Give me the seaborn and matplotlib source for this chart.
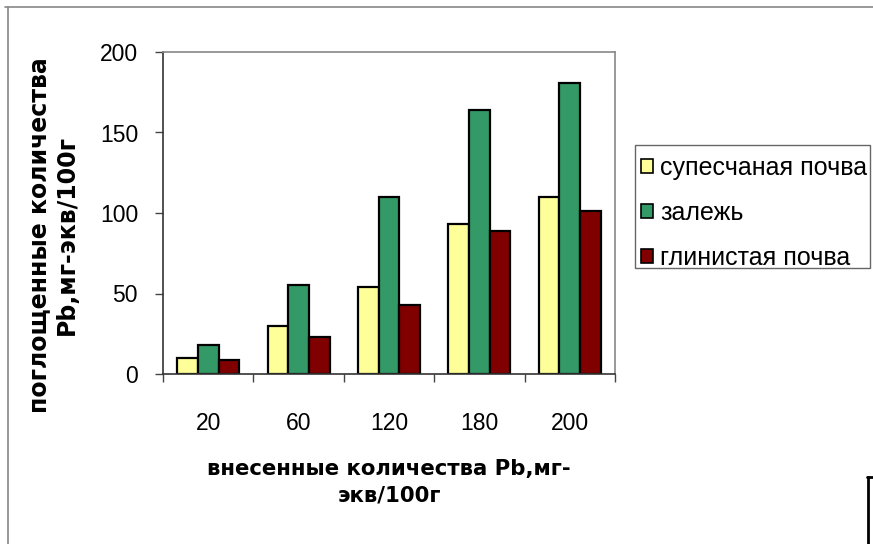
import matplotlib
matplotlib.use("Agg")
import matplotlib.pyplot as plt
from matplotlib.lines import Line2D
from matplotlib.patches import Rectangle
import seaborn as sns
import pandas as pd

# Applied Pb doses (mg-eq/100 g) and absorbed amounts per soil type
doses = ["20", "60", "120", "180", "200"]
soil_names = ["супесчаная почва", "залежь", "глинистая почва"]
sandy_loam = [10, 30, 54, 93, 110]
fallow = [18, 55, 110, 164, 181]
clay = [9, 23, 43, 89, 101]
soil_colors = ["#FFFF99", "#339966", "#800000"]
y_ticks = [0, 50, 100, 150, 200]

rows = []
for name, vals in zip(soil_names, [sandy_loam, fallow, clay]):
    for d, v in zip(doses, vals):
        rows.append({"доза": d, "почва": name, "значение": v})
df = pd.DataFrame(rows)

sns.set_theme(style="white")
plt.rcParams["font.family"] = ["Liberation Sans", "DejaVu Sans"]
plt.rcParams["text.color"] = "black"

W, H = 873, 544
fig = plt.figure(figsize=(W / 100, H / 100), dpi=100)
ax = fig.add_axes([163 / W, 1 - 374 / H, 452 / W, 322 / H])

sns.barplot(
    data=df, x="доза", y="значение", hue="почва",
    order=doses, hue_order=soil_names, palette=soil_colors,
    width=0.687, gap=0, edgecolor="black", linewidth=1.6,
    saturation=1, ax=ax, legend=True,
)

ax.set_xlim(-0.5, len(doses) - 0.5)
ax.set_ylim(0, 200)
ax.set_yticks(y_ticks)
ax.set_yticklabels([str(t) for t in y_ticks], fontsize=16.5)
ax.set_xticks(range(len(doses)))
ax.set_xticklabels(doses, fontsize=16.5)
ax.set_xticks([i - 0.5 for i in range(len(doses) + 1)], minor=True)
ax.tick_params(axis="x", which="major", length=0, pad=27, labelcolor="black")
ax.tick_params(axis="x", which="minor", length=6, width=1, color="#444444", direction="out", bottom=True)
ax.tick_params(axis="y", which="major", length=6, width=1, color="#444444", direction="out", left=True,
               pad=12, labelcolor="black")

for side in ["top", "right"]:
    ax.spines[side].set_color("#888888")
    ax.spines[side].set_linewidth(1.2)
for side in ["left", "bottom"]:
    ax.spines[side].set_color("#333333")
    ax.spines[side].set_linewidth(1.2)

bold = ["DejaVu Sans"]
ax.set_ylabel("поглощенные количества\nPb,мг-экв/100г", fontsize=17,
              fontweight="bold", family=bold, linespacing=1.15, color="black")
ax.yaxis.set_label_coords((53 - 163) / 452, (374 - 235) / 322)
ax.yaxis.label.set_va("center")
ax.set_xlabel("внесенные количества Pb,мг-\nэкв/100г", fontsize=15.3,
              fontweight="bold", family=bold, linespacing=1.4, color="black")
ax.xaxis.set_label_coords(0.5, (374 - 482) / 322)
ax.xaxis.label.set_va("center")

handles, labels = ax.get_legend_handles_labels()
ax.get_legend().remove()
leg = fig.legend(
    handles, labels, loc="center left",
    bbox_to_anchor=(641 / W, 1 - 213 / H), bbox_transform=fig.transFigure,
    fontsize=18, frameon=False, borderaxespad=0, borderpad=0,
    handlelength=0.46, handleheight=0.46, handletextpad=0.32,
    labelspacing=0.84,
)
for h in leg.legend_handles:
    h.set_edgecolor("black")
    h.set_linewidth(1.2)
# Legend frame
fig.add_artist(Rectangle((635 / W, 1 - 268 / H), 235 / W, 123 / H, transform=fig.transFigure,
                         fill=False, edgecolor="#666666", linewidth=1.0))

# Outer chart frame and the edge of a neighbouring object
fig.add_artist(Line2D([5 / W, 1], [1 - 7 / H] * 2, transform=fig.transFigure, color="#888888", lw=1.2))
fig.add_artist(Line2D([8 / W] * 2, [0, 1 - 7 / H], transform=fig.transFigure, color="#888888", lw=1.2))
fig.add_artist(Line2D([868 / W] * 2, [0, 1 - 477 / H], transform=fig.transFigure, color="black", lw=2))
fig.add_artist(Line2D([867 / W, 1], [1 - 477 / H] * 2, transform=fig.transFigure, color="black", lw=2))

fig.savefig("out.png", dpi=100, facecolor="white")
